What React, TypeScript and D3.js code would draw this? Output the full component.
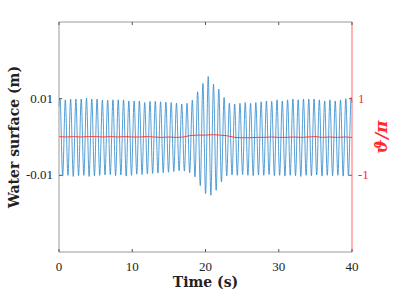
import * as d3 from "d3";

// time axis ticks
const xTicks = [0, 10, 20, 30, 40];
const leftTicks = [0.01, -0.01];
const leftTickLabels = ["0.01", "-0.01"];
const rightTicks = [1, -1];
const rightTickLabels = ["1", "-1"];

// water surface: successive crest / trough heights (m), one per half wave
const FIRST_CREST = 0.14; // s
const PERIOD = 0.7225; // s
const startLevel = 0.008;
const endLevel = 0.009;
const crests = [
  0.0100, 0.0097, 0.0099, 0.0099, 0.0099, 0.0101, 0.0099, 0.0099, 0.0096, 0.0096,
  0.0097, 0.0097, 0.0097, 0.0094, 0.0094, 0.0094, 0.0090, 0.0093, 0.0093, 0.0092,
  0.0091, 0.0090, 0.0088, 0.0086, 0.0088, 0.0096, 0.0118, 0.0140, 0.0158, 0.0138,
  0.0125, 0.0103, 0.0088, 0.0086, 0.0088, 0.0090, 0.0088, 0.0090, 0.0092, 0.0094,
  0.0093, 0.0097, 0.0094, 0.0097, 0.0099, 0.0097, 0.0099, 0.0099, 0.0099, 0.0097,
  0.0094, 0.0097, 0.0094, 0.0097, 0.0100, 0.0103,
];
const troughs = [
  -0.0102, -0.0100, -0.0103, -0.0101, -0.0100, -0.0103, -0.0101, -0.0100, -0.0099, -0.0098,
  -0.0101, -0.0099, -0.0102, -0.0100, -0.0097, -0.0098, -0.0096, -0.0095, -0.0094, -0.0093,
  -0.0092, -0.0090, -0.0088, -0.0089, -0.0093, -0.0104, -0.0127, -0.0148, -0.0152, -0.0139,
  -0.0117, -0.0101, -0.0099, -0.0100, -0.0098, -0.0100, -0.0101, -0.0099, -0.0100, -0.0098,
  -0.0101, -0.0100, -0.0102, -0.0100, -0.0101, -0.0103, -0.0100, -0.0101, -0.0099, -0.0102,
  -0.0100, -0.0101, -0.0100, -0.0102, -0.0101,
];

// phase angle / pi
const thetaTimes = [
  0, 1, 2, 3, 4, 5, 6, 7, 8, 9, 10, 11, 12, 13, 14, 15, 16, 17, 18, 19, 20,
  21, 22, 23, 24, 25, 26, 27, 28, 29, 30, 31, 32, 33, 34, 35, 36, 37, 38, 39, 40,
];
const thetaValues = [
  0.01, 0.00, 0.01, 0.00, 0.01, 0.01, 0.00, 0.01, 0.00, 0.01, 0.00, 0.00, 0.01, 0.00,
  -0.01, 0.00, -0.01, 0.00, 0.04, 0.05, 0.05, 0.06, 0.05, 0.03, -0.01, -0.02, -0.02,
  -0.01, -0.01, 0.00, -0.01, -0.01, 0.00, -0.01, 0.00, 0.01, -0.01, 0.00, -0.01, 0.00,
  -0.01,
];

const W = 399;
const H = 295;
const margin = { top: 22, right: 47, bottom: 43, left: 59 };
const TICK = 3;
const GREY = "#9a9a9a";
const RED = "#ff2a2a";
const SERIF = "'Liberation Serif', 'DejaVu Serif', serif";
const LABEL = "'DejaVu Serif', serif";

export default function App() {
  const x = d3.scaleLinear().domain([0, 40]).range([margin.left, W - margin.right]);
  const yL = d3.scaleLinear().domain([-0.03, 0.03]).range([H - margin.bottom, margin.top]);
  const yR = d3.scaleLinear().domain([-3, 3]).range([H - margin.bottom, margin.top]);

  const wave: [number, number][] = [[0, startLevel]];
  crests.forEach((c, k) => {
    wave.push([FIRST_CREST + k * PERIOD, c]);
    if (k < troughs.length) wave.push([FIRST_CREST + (k + 0.5) * PERIOD, troughs[k]]);
  });
  wave.push([40, endLevel]);

  const waveLine = d3
    .line<[number, number]>()
    .x((d) => x(d[0]))
    .y((d) => yL(d[1]))
    .curve(d3.curveMonotoneX);

  const thetaLine = d3
    .line<number>()
    .x((_, i) => x(thetaTimes[i]))
    .y((d) => yR(d));

  const x0 = x(0), x1 = x(40), yTop = margin.top, yBot = H - margin.bottom;

  return (
    <svg width={W} height={H} style={{ position: "absolute", left: 0, top: 0, background: "#fff" }}>
      <path d={waveLine(wave) ?? ""} fill="none" stroke="#2a86cc" strokeWidth={0.8} />
      <path d={thetaLine(thetaValues) ?? ""} fill="none" stroke={RED} strokeWidth={0.9} />

      {/* frame */}
      <line x1={x0} x2={x1} y1={yTop} y2={yTop} stroke={GREY} />
      <line x1={x0} x2={x1} y1={yBot} y2={yBot} stroke={GREY} />
      <line x1={x0} x2={x0} y1={yTop} y2={yBot} stroke={GREY} />
      <line x1={x1} x2={x1} y1={yTop} y2={yBot} stroke={RED} strokeOpacity={0.7} />

      {xTicks.map((t) => (
        <g key={t}>
          <line x1={x(t)} x2={x(t)} y1={yBot} y2={yBot - TICK} stroke="#555" />
          <line x1={x(t)} x2={x(t)} y1={yTop} y2={yTop + TICK} stroke="#555" />
          <text x={x(t)} y={yBot + 19} textAnchor="middle" fontFamily={SERIF} fontSize={13} fill="#222">
            {t}
          </text>
        </g>
      ))}

      {leftTicks.map((v, i) => (
        <g key={v}>
          <line x1={x0} x2={x0 + TICK} y1={yL(v)} y2={yL(v)} stroke="#555" />
          <text x={x0 - 6} y={yL(v) + 4} textAnchor="end" fontFamily={SERIF} fontSize={13} fill="#222">
            {leftTickLabels[i]}
          </text>
        </g>
      ))}

      {rightTicks.map((v, i) => (
        <g key={v}>
          <line x1={x1} x2={x1 - TICK} y1={yR(v)} y2={yR(v)} stroke={RED} />
          <text x={x1 + 6} y={yR(v) + 4} textAnchor="start" fontFamily={SERIF} fontSize={13} fill={RED}>
            {rightTickLabels[i]}
          </text>
        </g>
      ))}

      <text
        x={(x0 + x1) / 2}
        y={H - 8}
        textAnchor="middle"
        fontFamily={LABEL}
        fontWeight="bold"
        fontSize={14}
        fill="#222"
      >
        Time (s)
      </text>
      <text
        transform={`translate(19,${(yTop + yBot) / 2}) rotate(-90)`}
        textAnchor="middle"
        fontFamily={LABEL}
        fontWeight="bold"
        fontSize={14}
        fill="#222"
      >
        Water surface (m)
      </text>
      <text
        transform={`translate(387,${(yTop + yBot) / 2}) rotate(-90)`}
        textAnchor="middle"
        fontFamily={LABEL}
        fontWeight="bold"
        fontStyle="italic"
        fontSize={17}
        fill={RED}
      >
        ϑ/π
      </text>
    </svg>
  );
}
